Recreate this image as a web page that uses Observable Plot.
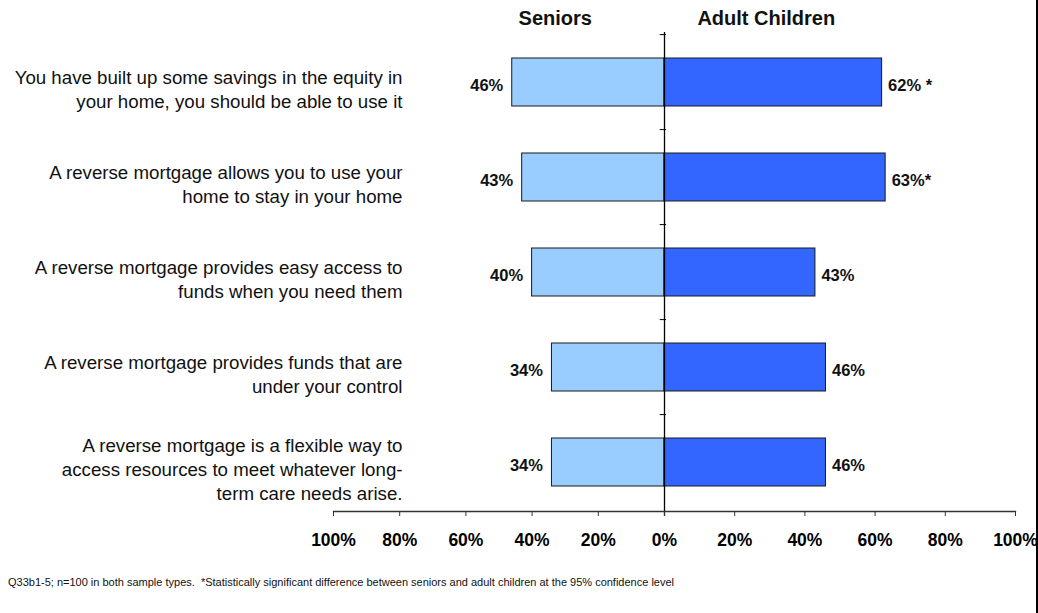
<!DOCTYPE html>
<html>
<head>
<meta charset="utf-8">
<script src="https://cdn.jsdelivr.net/npm/d3@7"></script>
<script src="https://cdn.jsdelivr.net/npm/@observablehq/plot@0.6"></script>
<style>
  html, body { margin: 0; padding: 0; background: #fff; }
  #wrap { position: relative; width: 1038px; height: 613px; overflow: hidden; font-family: "Liberation Sans", Arial, sans-serif; }
  #caption { position: absolute; left: 8px; top: 576px; font-size: 11px; color: #111; white-space: nowrap; }
  #edge { position: absolute; left: 1036px; top: 0; width: 2px; height: 613px; background: #000; }
</style>
</head>
<body>
<div id="wrap">
  <div id="chart"></div>
  <div id="caption">Q33b1-5; n=100 in both sample types.&nbsp; *Statistically significant difference between seniors and adult children at the 95% confidence level</div>
  <div id="edge"></div>
</div>
<script>
const categories = [
  "You have built up some savings in the equity in\nyour home, you should be able to use it",
  "A reverse mortgage allows you to use your\nhome to stay in your home",
  "A reverse mortgage provides easy access to\nfunds when you need them",
  "A reverse mortgage provides funds that are\nunder your control",
  "A reverse mortgage is a flexible way to\naccess resources to meet whatever long-\nterm care needs arise."
];
const seniors = [46, 43, 40, 34, 34];
const adultChildren = [62, 63, 43, 46, 46];
const adultLabels = ["62% *", "63%*", "43%", "46%", "46%"];
const groupNames = ["Seniors", "Adult Children"];
const groupCenters = [-33, 29];
const tickValues = [-100, -80, -60, -40, -20, 0, 20, 40, 60, 80, 100];

const rows = categories.map((c, i) => ({
  category: c,
  seniors: seniors[i],
  adult: adultChildren[i],
  adultLabel: adultLabels[i]
}));
const headers = groupNames.map((g, i) => ({label: g, x: groupCenters[i]}));

const font = "'Liberation Sans', Arial, sans-serif";

const chart = Plot.plot({
  width: 1038,
  height: 613,
  marginLeft: 333,
  marginRight: 23,
  marginTop: 32,
  marginBottom: 102,
  style: {fontFamily: font, background: "#fff", color: "#000", overflow: "visible"},
  x: {type: "linear", domain: [-100, 0, 100], range: [333, 664, 1015]},
  y: {type: "band", domain: categories, range: [32, 511], paddingInner: 0.5, paddingOuter: 0.25, axis: null},
  marks: [
    Plot.barX(rows, {x1: 0, x2: d => -d.seniors, y: "category", fill: "#99CCFF", stroke: "#1a1a1a", strokeWidth: 1}),
    Plot.barX(rows, {x1: 0, x2: "adult", y: "category", fill: "#3366FF", stroke: "#1a1a1a", strokeWidth: 1}),
    Plot.ruleX([0], {stroke: "#000", strokeWidth: 1.3, insetBottom: -5}),
    Plot.ruleY(categories, {y: d => d, x1: -1.3, x2: 0.6, dy: -47.9, stroke: "#000", strokeWidth: 1}),
    Plot.frame({anchor: "bottom", stroke: "#333", strokeWidth: 1.3}),
    Plot.axisX({
      ticks: tickValues,
      tickFormat: d => Math.abs(d) + "%",
      tickSize: 5,
      tickPadding: 17,
      fontSize: 17.5,
      fontWeight: "bold",
      label: null,
      stroke: "#333"
    }),
    Plot.text(rows, {x: d => -d.seniors, y: "category", text: d => d.seniors + "%", textAnchor: "end", dx: -9, dy: 3, fontSize: 16.5, fontWeight: "bold", fill: "#111"}),
    Plot.text(rows, {x: "adult", y: "category", text: "adultLabel", textAnchor: "start", dx: 6, dy: 3, fontSize: 16.5, fontWeight: "bold", fill: "#111"}),
    Plot.text(categories, {y: d => d, text: d => d, frameAnchor: "left", dx: 69, dy: 6, textAnchor: "end", lineHeight: 1.27, fontSize: 18.7, fill: "#111"}),
    Plot.text(headers, {x: "x", text: "label", frameAnchor: "top", lineAnchor: "bottom", dy: -8, fontSize: 20, fontWeight: "bold", fill: "#111"})
  ]
});
document.getElementById("chart").appendChild(chart);
</script>
</body>
</html>
